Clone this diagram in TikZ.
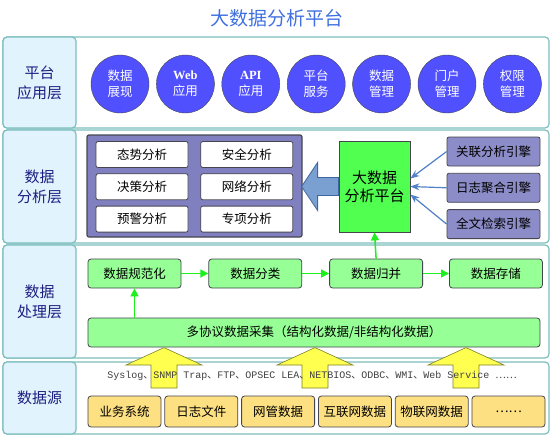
\documentclass[tikz,border=0pt]{standalone}
\usepackage{fontspec}
\usepackage{xcolor}
\usepackage{tikz}
\setmainfont{Noto Sans CJK SC}
\newfontfamily\latinserif{Liberation Serif}
\newfontfamily\protofont{Liberation Mono}
\newcommand{\dun}{{\rmfamily 、}}
\definecolor{titleblue}{RGB}{64, 112, 224}
\definecolor{layerteal}{RGB}{125, 190, 190}
\definecolor{labelblue}{RGB}{225, 243, 252}
\definecolor{labelnavy}{RGB}{30, 30, 130}
\definecolor{circleblue}{RGB}{80, 80, 255}
\definecolor{panelpurple}{RGB}{128, 128, 192}
\definecolor{enginepurple}{RGB}{140, 140, 200}
\definecolor{brightgreen}{RGB}{80, 255, 80}
\definecolor{lightgreen}{RGB}{150, 255, 150}
\definecolor{linkgreen}{RGB}{30, 240, 30}
\definecolor{linkblue}{RGB}{80, 128, 200}
\definecolor{arrowblue}{RGB}{122, 160, 210}
\definecolor{arrowyellow}{RGB}{255, 255, 80}
\definecolor{sourceyellow}{RGB}{253, 224, 130}
\definecolor{boxedge}{RGB}{70, 70, 80}
\usetikzlibrary{shapes, arrows.meta, positioning, calc}

\begin{document}
\begin{tikzpicture}[
    x=1pt, y=-1pt,
    layer/.style={rectangle, draw=layerteal, fill=white, rounded corners=4pt, line width=1.2pt, minimum width=546, inner sep=0pt},
    layerlabel/.style={rectangle, draw=layerteal, fill=labelblue, rounded corners=4pt, line width=1.2pt, minimum width=73, align=center, text=labelnavy, font=\fontsize{15}{20}\selectfont},
    app/.style={circle, draw=boxedge, fill=circleblue, minimum size=58, inner sep=0pt, align=center, text=white, font=\fontsize{12.5}{16}\selectfont},
    analysis/.style={rectangle, draw=boxedge, fill=white, rounded corners=2pt, line width=0.8pt, minimum width=92, minimum height=26, font=\fontsize{12.5}{15}\selectfont},
    engine/.style={rectangle, draw=boxedge, fill=enginepurple, rounded corners=2pt, line width=0.8pt, minimum width=93, minimum height=29, font=\fontsize{12.5}{15}\selectfont},
    process/.style={rectangle, draw=boxedge, fill=lightgreen, rounded corners=3pt, line width=0.8pt, minimum width=93, minimum height=29, font=\fontsize{12.5}{15}\selectfont},
    source/.style={rectangle, draw=boxedge, fill=sourceyellow, rounded corners=3pt, line width=0.8pt, minimum width=73, minimum height=31, inner sep=0pt, font=\fontsize{12.5}{15}\selectfont},
    greenlink/.style={draw=linkgreen, line width=1.5pt, -{Triangle[length=8pt, width=8pt]}},
    bluelink/.style={draw=linkblue, line width=1.2pt, -{Stealth[length=9pt, width=7pt]}},
    fatarrow/.style={draw=linkblue!80!black, fill=arrowblue, line width=0.8pt},
    upbeam/.style={draw=arrowyellow!50!black, fill=arrowyellow, line width=0.6pt}
]
    \useasboundingbox (0,0) rectangle (554,440);

    % Title
    \node[font=\fontsize{19}{22}\selectfont, text=titleblue] (title) at (277,18) {大数据分析平台};

    % Layers
    \node[layer, minimum height=91] (appbg) at (276,82.5) {};
    \node[layerlabel, minimum height=91] (applabel) at (39.5,82.5) {平台\\应用层};
    \node[layer, minimum height=113] (anabg) at (276,186.5) {};
    \node[layerlabel, minimum height=113] (analabel) at (39.5,186.5) {数据\\分析层};
    \node[layer, minimum height=113] (procbg) at (276,301.5) {};
    \node[layerlabel, minimum height=113] (proclabel) at (39.5,301.5) {数据\\处理层};
    \node[layer, minimum height=72] (srcbg) at (276,398) {};
    \node[layerlabel, minimum height=72] (srclabel) at (39.5,398) {数据源};

    % Platform applications
    \node[app] (show) at (120,84) {数据\\展现};
    \node[app, right=7pt of show] (web) {{\latinserif\bfseries Web}\\应用};
    \node[app, right=7pt of web] (api) {{\latinserif\bfseries API}\\应用};
    \node[app, right=7pt of api] (service) {平台\\服务};
    \node[app, right=7pt of service] (datamgr) {数据\\管理};
    \node[app, right=7pt of datamgr] (portal) {门户\\管理};
    \node[app, right=7pt of portal] (rights) {权限\\管理};

    % Analysis layer
    \node[rectangle, draw=boxedge, fill=panelpurple, rounded corners=2pt, line width=1.2pt, minimum width=215, minimum height=102] (panel) at (194.5,186) {};
    \node[analysis] (trend) at (142,154.5) {态势分析};
    \node[analysis, right=12pt of trend] (security) {安全分析};
    \node[analysis, below=5.5pt of trend] (decision) {决策分析};
    \node[analysis, right=12pt of decision] (network) {网络分析};
    \node[analysis, below=5.5pt of decision] (warning) {预警分析};
    \node[analysis, right=12pt of warning] (special) {专项分析};

    \node[rectangle, draw=boxedge, fill=brightgreen, line width=0.8pt, minimum width=71, minimum height=91, align=center, font=\fontsize{15}{18}\selectfont] (bigdata) at (374.5,186.5) {大数据\\分析平台};
    \draw[fatarrow] ($(bigdata.west)+(0,-9)$) -- ++(-21,0) -- ++(0,-15) -- ++(-16,24) -- ++(16,24) -- ++(0,-15) -- ($(bigdata.west)+(0,9)$) -- cycle;

    \node[engine] (assoc) at (493.5,151.5) {关联分析引擎};
    \node[engine, below=6.5pt of assoc] (logagg) {日志聚合引擎};
    \node[engine, below=6.5pt of logagg] (fulltext) {全文检索引擎};
    \draw[bluelink] (assoc.west) -- ($(bigdata.east)+(0,-8)$);
    \draw[bluelink] (logagg.west) -- (bigdata.east);
    \draw[bluelink] (fulltext.west) -- ($(bigdata.east)+(0,8)$);

    % Processing layer
    \node[process] (norm) at (134.5,273.5) {数据规范化};
    \node[process, right=27pt of norm] (classify) {数据分类};
    \node[process, right=27pt of classify] (merge) {数据归并};
    \node[process, right=26pt of merge] (store) {数据存储};
    \node[process, minimum width=452] (collect) at (314,332.5) {多协议数据采集（结构化数据/非结构化数据）};
    \draw[greenlink] (norm) -- (classify);
    \draw[greenlink] (classify) -- (merge);
    \draw[greenlink] (merge) -- (store);
    \draw[greenlink] (collect.north -| norm.south) -- (norm.south);
    \draw[greenlink] (merge.north) -- (bigdata.south);

    % Data sources
    \foreach \x in {164,315,466}
        \draw[upbeam] (\x-13,388) -- (\x-13,365) -- (\x-38,365) -- (\x,347.6) -- (\x+38,365) -- (\x+13,365) -- (\x+13,388) -- cycle;
    \node[text=black!75, font=\protofont\fontsize{10}{12}\selectfont] (proto) at (312,376) {Syslog\dun SNMP Trap\dun FTP\dun OPSEC LEA\dun NETBIOS\dun ODBC\dun WMI\dun Web Service {\rmfamily ……}};

    \node[source] (business) at (124.5,411.5) {业务系统};
    \node[source, right=3pt of business] (logfile) {日志文件};
    \node[source, right=3pt of logfile] (netmgr) {网管数据};
    \node[source, right=3pt of netmgr] (internet) {互联网数据};
    \node[source, right=3pt of internet] (iot) {物联网数据};
    \node[source, right=3pt of iot] (more) {……};
\end{tikzpicture}
\end{document}
